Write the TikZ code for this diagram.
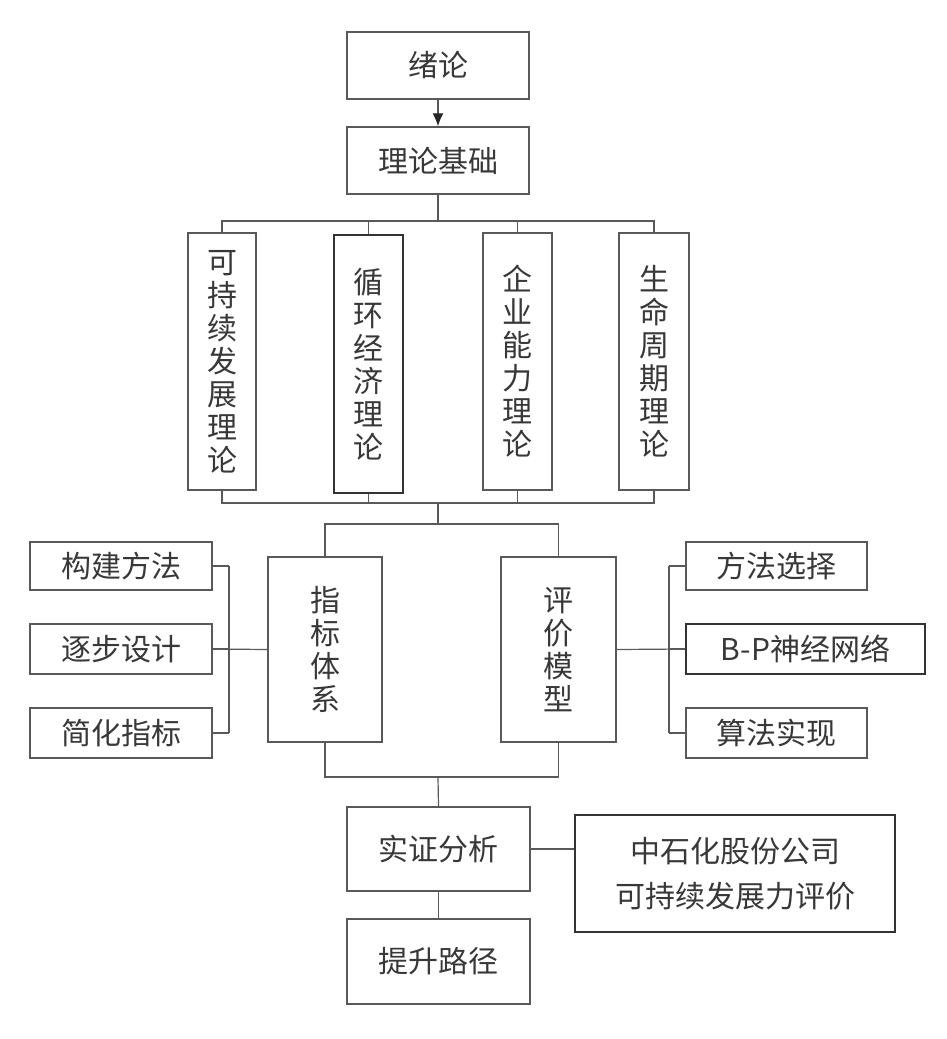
\documentclass[tikz,border=0pt]{standalone}
\usepackage{fontspec}
\setmainfont{Liberation Serif}
\newfontfamily\cjk{Noto Sans CJK SC}
\usepackage{tikz}
\usetikzlibrary{arrows.meta}
\definecolor{lc}{rgb}{.35,.35,.35}
\definecolor{tc}{rgb}{.22,.22,.22}
\tikzset{
  box/.style={draw=lc, line width=1.5pt, inner sep=0pt, align=center, text=tc,
    font=\cjk\fontsize{30}{33}\selectfont},
  darkbox/.style={box, draw=black!80},
  link/.style={draw=lc, line width=1.2pt}
}

\begin{document}
\begin{tikzpicture}[x=1pt, y=-1pt]
        \useasboundingbox (0,0) rectangle (947,1039);

        \node[box, minimum width=182, minimum height=67] (xulun) at (438,65.5) {绪论};
        \node[box, minimum width=182, minimum height=67] (lilun) at (438,160.5) {理论基础};

        % theories
        \node[box, minimum width=68, minimum height=257] (t1) at (222,361.5) {可\\持\\续\\发\\展\\理\\论};
        \node[darkbox, minimum width=69, minimum height=258] (t2) at (368.5,364) {循\\环\\经\\济\\理\\论};
        \node[box, minimum width=69, minimum height=257] (t3) at (517.5,361.5) {企\\业\\能\\力\\理\\论};
        \node[box, minimum width=70, minimum height=257] (t4) at (654,361.5) {生\\命\\周\\期\\理\\论};

        % system and model
        \node[box, minimum width=114, minimum height=185] (zhibiao) at (325,649.5) {指\\标\\体\\系};
        \node[box, minimum width=115, minimum height=185] (pingjia) at (558.5,649.5) {评\\价\\模\\型};

        \node[box, minimum width=182, minimum height=48] (gj) at (121,566) {构建方法};
        \node[box, minimum width=182, minimum height=50] (zb) at (121,649) {逐步设计};
        \node[box, minimum width=182, minimum height=50] (jh) at (121,733) {简化指标};

        \node[box, minimum width=181, minimum height=48] (ff) at (776.5,566) {方法选择};
        \node[darkbox, minimum width=239, minimum height=50] (bp) at (805.5,649) {B-P神经网络};
        \node[box, minimum width=181, minimum height=50] (sf) at (776.5,733) {算法实现};

        % analysis
        \node[box, minimum width=183, minimum height=84] (shizheng) at (438.5,849) {实证分析};
        \node[box, minimum width=183, minimum height=85] (tisheng) at (438.5,961.5) {提升路径};
        \node[darkbox, minimum width=320, minimum height=117,
              font=\cjk\fontsize{30}{45}\selectfont] (zsh) at (735,873.5) {中石化股份公司\\可持续发展力评价};

        \coordinate (topbus) at (438,221);
        \coordinate (midbus) at (438,503);
        \coordinate (sysbus) at (438,524);
        \coordinate (lowbus) at (438,777);
        \coordinate (lbr) at (229,649);
        \coordinate (rbr) at (669,649);

        \draw[link, -{Latex[length=13pt, width=11pt, color=black!85]}] (xulun.south) -- (lilun.north);

        \draw[link] (lilun.south) -- (topbus);
        \draw[link] (t1.north) -- (t1.north |- topbus) -- (t4.north |- topbus) -- (t4.north);
        \foreach \t in {t2, t3}
          \draw[link] (\t.north) -- (\t.north |- topbus);

        \draw[link] (t1.south) -- (t1.south |- midbus) -- (t4.south |- midbus) -- (t4.south);
        \foreach \t in {t2, t3}
          \draw[link] (\t.south) -- (\t.south |- midbus);

        \draw[link] (midbus) -- (sysbus);
        \draw[link] (zhibiao.north) |- (sysbus) -| (pingjia.north);

        % left bracket
        \foreach \b in {gj, zb, jh}
          \draw[link] (\b.east) -- (\b.east -| lbr);
        \draw[link] (gj.east -| lbr) -- (jh.east -| lbr);
        \draw[link] (zb.east) -- (zhibiao.west);

        % right bracket
        \foreach \b in {ff, bp, sf}
          \draw[link] (\b.west) -- (\b.west -| rbr);
        \draw[link] (ff.west -| rbr) -- (sf.west -| rbr);
        \draw[link] (pingjia.east) -- (bp.west);

        \draw[link] (zhibiao.south) |- (lowbus) -| (pingjia.south);
        \draw[link] (lowbus) -- (shizheng.north);
        \draw[link] (shizheng.south) -- (tisheng.north);
        \draw[link] (shizheng.east) -- (shizheng.east -| zsh.west);

      \end{tikzpicture}
\end{document}
